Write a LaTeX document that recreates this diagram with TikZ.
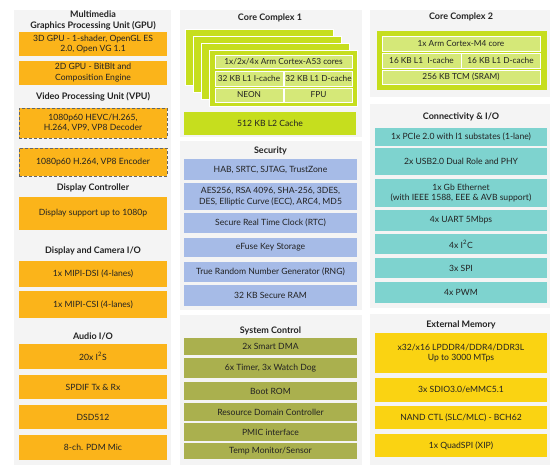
\documentclass[tikz,border=0pt]{standalone}
\usepackage{fontspec}
\setmainfont{Lato}
\definecolor{panelc}{HTML}{F4F4F4}
\definecolor{orangec}{HTML}{FBB41A}
\definecolor{limec}{HTML}{C6DE1E}
\definecolor{limecell}{HTML}{D5E878}
\definecolor{bluec}{HTML}{A6BBE7}
\definecolor{olivec}{HTML}{AAB04E}
\definecolor{tealc}{HTML}{7ED3CF}
\definecolor{yellowc}{HTML}{FAD312}
\definecolor{txt}{HTML}{222222}
\begin{document}
\begin{tikzpicture}[x=1pt,y=-1pt,
  every node/.style={inner sep=0pt, outer sep=0pt, align=center, text=txt, font=\fontsize{8.6}{10.8}\selectfont},
  title/.style={font=\fontsize{9}{10.5}\selectfont\bfseries},
  panel/.style={fill=panelc, draw=none},
  obox/.style={fill=orangec, minimum width=148pt},
  vbox/.style={obox, draw=black!60, densely dashed, line width=0.5pt},
  mbox/.style={fill=bluec, minimum width=173pt},
  sbox/.style={fill=olivec, minimum width=173pt},
  tbox/.style={fill=tealc, minimum width=172pt},
  ybox/.style={fill=yellowc, minimum width=172pt},
  card/.style={fill=limec, draw=white, line width=0.8pt, minimum width=148pt, minimum height=56pt, anchor=north west},
  cell/.style={fill=limecell, draw=white, line width=0.5pt, font=\fontsize{8.3}{10}\selectfont}
]
\useasboundingbox (0,0) rectangle (551,468);
% background panels
\fill[panelc] (14,10) rectangle (171,465);
\fill[panelc] (180,10) rectangle (362,137);
\fill[panelc] (180,141) rectangle (362,310);
\fill[panelc] (180,315) rectangle (362,465);
\fill[panelc] (370,10) rectangle (550,97);
\fill[panelc] (370,104) rectangle (550,308);
\fill[panelc] (370,314) rectangle (550,465);

% ---------------- left column ----------------
\node[title] (tmm) at (93,20.5) {Multimedia\\Graphics Processing Unit (GPU)};
\node[obox, minimum height=24pt] (gpu3d) at (93,44) {3D GPU - 1-shader, OpenGL ES\\2.0, Open VG 1.1};
\node[obox, minimum height=24pt] (gpu2d) at (93,73) {2D GPU - BitBlt and\\Composition Engine};
\node[title] (tvpu) at (93,97) {Video Processing Unit (VPU)};
\node[vbox, minimum height=30pt] (vdec) at (93,123) {1080p60 HEVC/H.265,\\H.264, VP9, VP8 Decoder};
\node[vbox, minimum height=28pt] (venc) at (93,162) {1080p60 H.264, VP8 Encoder};
\node[title] (tdc) at (93,188) {Display Controller};
\node[obox, minimum height=33pt] (disp) at (93,213.5) {Display support up to 1080p};
\node[title] (tdcio) at (93,251) {Display and Camera I/O};
\node[obox, minimum height=26pt] (dsi) at (93,274) {1x MIPI-DSI (4-lanes)};
\node[obox, minimum height=27pt] (csi) at (93,304.5) {1x MIPI-CSI (4-lanes)};
\node[title] (taudio) at (93,336) {Audio I/O};
\node[obox, minimum height=25pt] (i2s) at (93,356.5) {20x I\textsuperscript{2}S};
\node[obox, minimum height=24pt] (spdif) at (93,387) {SPDIF Tx \& Rx};
\node[obox, minimum height=24pt] (dsd) at (93,417) {DSD512};
\node[obox, minimum height=25pt] (pdm) at (93,447.5) {8-ch. PDM Mic};

% ---------------- middle column ----------------
\node[title] (tcc1) at (270,18) {Core Complex 1};
\node[card] (card1) at (185,29) {};
\node[card] (card2) at (193,36) {};
\node[card] (card3) at (201,43) {};
\node[card] (card4) at (209,50) {};
\node[cell, minimum width=137pt, minimum height=13pt] (a53) at (283.5,61.5) {1x/2x/4x Arm Cortex-A53 cores};
\node[cell, minimum width=68pt, minimum height=15pt] (icache1) at (249,78.5) {32 KB L1 I-cache};
\node[cell, minimum width=68pt, minimum height=15pt] (dcache1) at (318.5,78.5) {32 KB L1 D-cache};
\node[cell, minimum width=68pt, minimum height=14pt] (neon) at (249,95) {NEON};
\node[cell, minimum width=68pt, minimum height=14pt] (fpu) at (318.5,95) {FPU};
\node[fill=limec, minimum width=172pt, minimum height=23pt] (l2) at (270,123.5) {512 KB L2 Cache};

\node[title] (tsec) at (270.5,151) {Security};
\node[mbox, minimum height=21pt] (hab) at (270.5,169.5) {HAB, SRTC, SJTAG, TrustZone};
\node[mbox, minimum height=27pt] (aes) at (270.5,196.5) {AES256, RSA 4096, SHA-256, 3DES,\\DES, Elliptic Curve (ECC), ARC4, MD5};
\node[mbox, minimum height=20pt] (rtc) at (270.5,223) {Secure Real Time Clock (RTC)};
\node[mbox, minimum height=19pt] (efuse) at (270.5,247.5) {eFuse Key Storage};
\node[mbox, minimum height=20pt] (rng) at (270.5,272) {True Random Number Generator (RNG)};
\node[mbox, minimum height=21pt] (sram) at (270.5,295.5) {32 KB Secure RAM};

\node[title] (tsys) at (270.5,331) {System Control};
\node[sbox, minimum height=17pt] (dma) at (270.5,346.5) {2x Smart DMA};
\node[sbox, minimum height=20pt] (timer) at (270.5,368) {6x Timer, 3x Watch Dog};
\node[sbox, minimum height=18pt] (boot) at (270.5,391) {Boot ROM};
\node[sbox, minimum height=18pt] (rdc) at (270.5,412) {Resource Domain Controller};
\node[sbox, minimum height=18pt] (pmic) at (270.5,432) {PMIC interface};
\node[sbox, minimum height=16pt] (temp) at (270.5,451) {Temp Monitor/Sensor};

% ---------------- right column ----------------
\node[title] (tcc2) at (461,17) {Core Complex 2};
\node[fill=limec, minimum width=170pt, minimum height=59pt] (cc2) at (462,60.5) {};
\node[cell, minimum width=158pt, minimum height=15pt] (m4) at (461,43.5) {1x Arm Cortex-M4 core};
\node[cell, minimum width=79pt, minimum height=15pt] (icache2) at (421.5,60.5) {16 KB L1 ~I-cache};
\node[cell, minimum width=79pt, minimum height=15pt] (dcache2) at (500.5,60.5) {16 KB L1 D-cache};
\node[cell, minimum width=158pt, minimum height=14pt] (tcm) at (461,77) {256 KB TCM (SRAM)};

\node[title] (tcon) at (461,117) {Connectivity \& I/O};
\node[tbox, minimum height=18pt] (pcie) at (461,137) {1x PCIe 2.0 with l1 substates (1-lane)};
\node[tbox, minimum height=27pt] (usb) at (461,161.5) {2x USB2.0 Dual Role and PHY};
\node[tbox, minimum height=28pt] (eth) at (461,193) {1x Gb Ethernet\\(with IEEE 1588, EEE \& AVB support)};
\node[tbox, minimum height=21pt] (uart) at (461,220.5) {4x UART 5Mbps};
\node[tbox, minimum height=20pt] (i2c) at (461,244) {4x I\textsuperscript{2}C};
\node[tbox, minimum height=20pt] (spi) at (461,268) {3x SPI};
\node[tbox, minimum height=21pt] (pwm) at (461,292.5) {4x PWM};

\node[title] (tmem) at (461,325) {External Memory};
\node[ybox, minimum height=40pt] (ddr) at (461,353) {x32/x16 LPDDR4/DDR4/DDR3L\\Up to 3000 MTps};
\node[ybox, minimum height=24pt] (sdio) at (461,390) {3x SDIO3.0/eMMC5.1};
\node[ybox, minimum height=23pt] (nand) at (461,417.5) {NAND CTL (SLC/MLC) - BCH62};
\node[ybox, minimum height=23pt] (qspi) at (461,445.5) {1x QuadSPI (XIP)};
\end{tikzpicture}
\end{document}
